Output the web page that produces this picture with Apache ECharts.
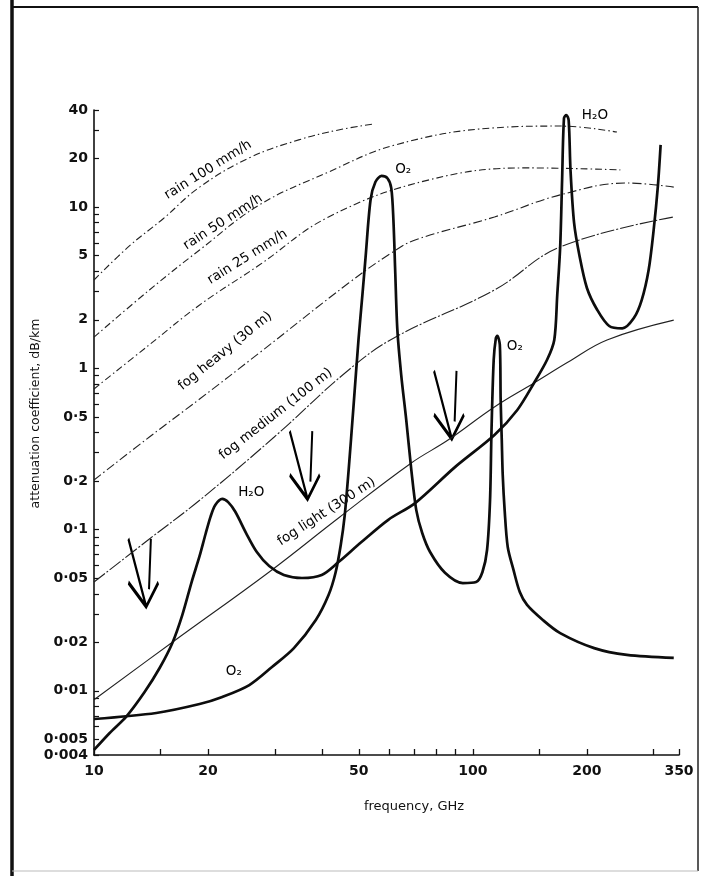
<!DOCTYPE html>
<html>
<head>
<meta charset="utf-8">
<script src="https://cdn.jsdelivr.net/npm/echarts@6/dist/echarts.min.js"></script>
<style>
  html, body { margin: 0; padding: 0; background: #fff; }
  #myChart { width: 703px; height: 876px; }
</style>
</head>
<body>
<div id="myChart"></div>
<script>
// frequency GHz, attenuation dB/km
const rain100 = [[10, 3.53], [12.4, 5.74], [15.2, 8.44], [19.0, 13.3], [25.7, 20.2], [34.7, 26.1], [44.2, 30.1], [54.6, 32.7]];
const rain50 = [[10, 1.56], [14.0, 3.06], [19.0, 5.42], [27.3, 10.3], [41.6, 16.5], [62.4, 24.3], [114, 31.0], [170, 31.8], [240, 29.2]];
const rain25 = [[10, 0.745], [14.0, 1.40], [19.0, 2.47], [27.3, 4.37], [41.6, 8.68], [76.2, 14.7], [139, 17.5], [245, 17.0]];
const fogHeavy = [[10, 0.203], [14.0, 0.375], [19.0, 0.645], [27.3, 1.245], [47.0, 3.38], [60.9, 5.19], [70.4, 6.25], [114, 8.68], [170, 11.9], [255, 14.1], [339, 13.3]];
const fogMedium = [[10, 0.0473], [14.0, 0.0874], [19.0, 0.152], [29.9, 0.375], [47.0, 0.977], [62.4, 1.56], [114, 3.06], [170, 5.66], [339, 8.68]];
const fogLight = [[10, 0.0088], [16.0, 0.0198], [29.0, 0.0546], [44.2, 0.118], [68.8, 0.259], [86.0, 0.359], [114, 0.576], [145, 0.811], [178, 1.09], [226, 1.50], [339, 1.99]];
const oxygen = [[10, 0.00669], [14.6, 0.00729], [19.0, 0.00828], [21.8, 0.00916], [25.7, 0.01086], [29.5, 0.01405], [33.7, 0.0184],
  [38.5, 0.0275], [41.6, 0.0393], [43.4, 0.054], [44.8, 0.0803], [45.9, 0.123], [47.0, 0.234], [48.4, 0.576], [49.9, 1.50], [51.1, 2.85],
  [52.1, 4.90], [53.7, 11.1], [55.3, 14.3], [57.4, 15.6], [59.5, 15.1], [60.9, 13.1], [61.7, 8.31], [62.4, 3.90], [63.2, 1.73], [64.7, 0.909],
  [66.7, 0.479], [68.8, 0.234], [70.9, 0.132], [73.5, 0.0952], [77.1, 0.0726], [84.4, 0.054], [94.1, 0.0466], [102, 0.0473], [106, 0.0546],
  [109, 0.0747], [111, 0.152], [112, 0.414], [113.5, 1.13], [115, 1.54], [116, 1.59], [117.8, 1.40], [118.4, 0.637], [119.2, 0.359],
  [119.9, 0.218], [121.3, 0.132], [123.6, 0.078], [128, 0.0562], [133, 0.0410], [139, 0.0341], [153, 0.0275], [170, 0.0228], [209, 0.0184],
  [255, 0.0167], [339, 0.0160]];
const water = [[10, 0.0043], [11.0, 0.00548], [12.2, 0.00698], [13.6, 0.00983], [14.9, 0.01385], [16.1, 0.0198], [17.1, 0.0295],
  [18.1, 0.0473], [19.0, 0.0686], [19.7, 0.0939], [20.3, 0.120], [20.9, 0.142], [21.8, 0.155], [22.6, 0.148], [23.6, 0.129], [25.2, 0.0952],
  [26.9, 0.0726], [29.0, 0.0594], [31.7, 0.0523], [35.4, 0.0501], [39.9, 0.0523], [44.2, 0.0629], [50.8, 0.0837], [59.8, 0.115], [70.4, 0.146],
  [89.7, 0.244], [114, 0.386], [131, 0.552], [145, 0.811], [157, 1.13], [164, 1.50], [167, 2.85], [170, 5.66], [172, 14.7], [174, 35.7],
  [176.5, 37.2], [179, 34.5], [181, 17.0], [185, 7.97], [191, 5.04], [200, 3.15], [213, 2.30], [229, 1.83], [248, 1.77], [266, 2.05],
  [279, 2.65], [291, 4.07], [300, 7.2], [308, 13.7], [313, 24.3]];

const xTicks = [10, 15, 20, 30, 40, 50, 60, 70, 80, 90, 100, 150, 200, 300, 350];
const xLabels = [10, 20, 50, 100, 200, 350];
const yLabels = [0.004, 0.005, 0.01, 0.02, 0.05, 0.1, 0.2, 0.5, 1, 2, 5, 10, 20, 40];
const yTicks = [0.004, 0.005, 0.006, 0.007, 0.008, 0.009, 0.01, 0.02, 0.03, 0.04, 0.05, 0.06, 0.07, 0.08, 0.09,
  0.1, 0.2, 0.3, 0.4, 0.5, 0.6, 0.7, 0.8, 0.9, 1, 2, 3, 4, 5, 6, 7, 8, 9, 10, 20, 30, 40];

// text notes on the plot: [freq, value, text, angle]
const notes = [
  [20.0, 17.0, 'rain 100 mm/h', 32],
  [21.9, 8.08, 'rain 50 mm/h', 33],
  [25.4, 4.90, 'rain 25 mm/h', 32],
  [22.2, 1.28, 'fog heavy (30 m)', 39],
  [30.2, 0.521, 'fog medium (100 m)', 38],
  [41.1, 0.129, 'fog light (300 m)', 33],
  [26.0, 0.171, 'H₂O', 0],
  [65.5, 17.0, 'O₂', 0],
  [210, 37.2, 'H₂O', 0],
  [129, 1.375, 'O₂', 0],
  [23.4, 0.0131, 'O₂', 0]
];
const arrowMarks = [[13.5, 0.054], [36.0, 0.251], [86.5, 0.593]];

let myChart = echarts.init(document.getElementById('myChart'));

function tickText(v) {
  return String(v).replace('.', '·');
}

let thin = function (name, data, type) {
  return {
    name: name, type: 'line', data: data, smooth: 0.4, symbol: 'none', silent: true,
    lineStyle: { color: '#222', width: 1.1, type: type }
  };
};
let thick = function (name, data) {
  return {
    name: name, type: 'line', data: data, smooth: 0.3, symbol: 'none', silent: true,
    lineStyle: { color: '#0d0d0d', width: 2.7, join: 'round' }
  };
};

let option = {
  animation: false,
  backgroundColor: '#fff',
  grid: { left: 94, right: 24, top: 110, bottom: 121 },
  xAxis: {
    type: 'log', logBase: 10, min: 10, max: 350,
    name: 'frequency, GHz', nameLocation: 'middle', nameGap: 45,
    nameTextStyle: { color: '#111', fontFamily: 'DejaVu Sans', fontSize: 13, padding: [0, 0, 0, 55] },
    axisLine: { lineStyle: { color: '#111', width: 1.6 } },
    axisTick: { inside: true, length: 6, customValues: xTicks, lineStyle: { color: '#111', width: 1.3 } },
    axisLabel: { customValues: xLabels, color: '#111', fontFamily: 'DejaVu Sans', fontWeight: 'bold', fontSize: 14, margin: 9 },
    splitLine: { show: false }
  },
  yAxis: {
    type: 'log', logBase: 10, min: 0.004, max: 40,
    name: 'attenuation coefficient, dB/km', nameLocation: 'middle', nameGap: 52, nameRotate: 90,
    nameMoveOverlap: false,
    nameTextStyle: { color: '#111', fontFamily: 'DejaVu Sans', fontSize: 12.5, padding: [0, 0, 0, 38] },
    axisLine: { lineStyle: { color: '#111', width: 1.6 } },
    axisTick: { inside: true, length: 5, customValues: yTicks, lineStyle: { color: '#111', width: 1.2 } },
    axisLabel: { customValues: yLabels, formatter: tickText, color: '#111', fontFamily: 'DejaVu Sans', fontWeight: 'bold', fontSize: 14, margin: 6 },
    splitLine: { show: false }
  },
  series: [
    thin('rain 100 mm/h', rain100, [7, 3, 1.5, 3]),
    thin('rain 50 mm/h', rain50, [7, 3, 1.5, 3]),
    thin('rain 25 mm/h', rain25, [7, 3, 1.5, 3]),
    thin('fog heavy (30 m)', fogHeavy, [9, 3, 1.5, 3]),
    thin('fog medium (100 m)', fogMedium, [14, 2, 2, 2]),
    thin('fog light (300 m)', fogLight, 'solid'),
    thick('O2', oxygen),
    thick('H2O', water),
    {
      type: 'scatter', silent: true, symbolSize: 0,
      itemStyle: { opacity: 1 },
      data: notes.map(n => ({
        value: [n[0], n[1]],
        label: { show: true, position: 'inside', formatter: n[2], rotate: n[3] }
      })),
      label: { color: '#000', fontFamily: 'DejaVu Sans', fontSize: 13.5 }
    },
    {
      type: 'scatter', silent: true,
      symbol: 'path://M0,0 L19,70 M24,0 L22,52 M0,45 L19,70 L32,45',
      symbolSize: [30, 68],
      data: arrowMarks,
      itemStyle: { color: 'rgba(0,0,0,0)', borderColor: '#000', borderWidth: 3, opacity: 1 }
    }
  ],
  graphic: [
    { type: 'line', shape: { x1: 12, y1: 0, x2: 12, y2: 876 }, style: { stroke: '#111', lineWidth: 3.5 } },
    { type: 'line', shape: { x1: 12, y1: 7, x2: 698, y2: 7 }, style: { stroke: '#111', lineWidth: 2 } },
    { type: 'line', shape: { x1: 698, y1: 7, x2: 698, y2: 871 }, style: { stroke: '#222', lineWidth: 1.5 } },
    { type: 'line', shape: { x1: 12, y1: 871, x2: 698, y2: 871 }, style: { stroke: '#bbb', lineWidth: 1 } }
  ]
};
myChart.setOption(option);
</script>
</body>
</html>
